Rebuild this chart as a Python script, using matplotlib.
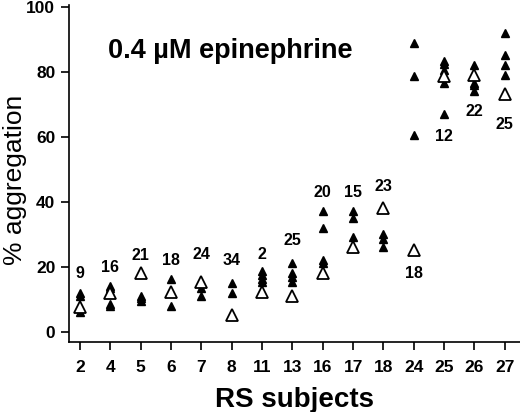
import matplotlib
matplotlib.use("Agg")
import matplotlib.pyplot as plt

plt.rcParams['font.family'] = ['Liberation Sans', 'DejaVu Sans']
plt.rcParams['font.weight'] = 'bold'

subjects = ["2", "4", "5", "6", "7", "8", "11", "13", "16", "17", "18", "24", "25", "26", "27"]

# individual measurements (filled triangles)
filled = [
    [11.8, 11.1, 6.2],
    [14.1, 13.4, 8.4, 7.9],
    [11.0, 10.3, 9.4],
    [16.1, 7.9],
    [13.5, 11.0],
    [15.1, 11.8],
    [18.8, 17.6, 16.3, 15.2],
    [21.1, 18.1, 16.8, 15.3],
    [37.1, 32.0, 22.1, 21.2],
    [37.1, 34.9, 29.2, 25.7],
    [30.0, 28.5, 26.2],
    [88.9, 78.7, 60.5],
    [83.3, 82.2, 80.5, 76.6, 66.9],
    [82.0, 76.4, 75.8, 73.9],
    [92.0, 85.1, 82.0, 79.0],
]
# open triangles
opened = [7.7, 12.0, 18.2, 12.3, 15.3, 5.1, 12.2, 11.1, 18.2, 26.2, 38.2, 25.3, 78.7, 78.9, 73.1]

# numbers printed next to each subject
n_labels = ["9", "16", "21", "18", "24", "34", "2", "25", "20", "15", "23", "18", "12", "22", "25"]
n_label_y = [17.8, 19.8, 23.6, 21.8, 23.9, 21.8, 23.9, 28.1, 42.8, 42.8, 44.8, 17.8, 59.9, 67.7, 63.6]

fig = plt.figure(figsize=(5.2, 4.12), dpi=100)
ax = fig.add_axes([0.133, 0.171, 0.867, 0.817])

for i, vals in enumerate(filled):
    ax.plot([i] * len(vals), vals, linestyle='none', marker='^',
            markersize=5.2, color='black')
ax.plot(range(len(opened)), opened, linestyle='none', marker='^',
        markersize=9, markerfacecolor='white', markeredgecolor='black',
        markeredgewidth=1.3)

for i, (lab, y) in enumerate(zip(n_labels, n_label_y)):
    ax.text(i, y, lab, ha='center', va='center', fontsize=11.5, fontweight='bold')

ax.text(0.92, 84.3, "0.4 \u00b5M epinephrine", ha='left', va='baseline',
        fontsize=19.5, fontweight='bold')

ax.set_xlim(-0.36, 14.5)
ax.set_ylim(-3, 100.5)
ax.set_xticks(range(len(subjects)))
ax.set_xticklabels(subjects)
ax.set_yticks([0, 20, 40, 60, 80, 100])

ax.spines['top'].set_visible(False)
ax.spines['right'].set_visible(False)
ax.spines['left'].set_linewidth(1.2)
ax.spines['bottom'].set_linewidth(1.2)
ax.tick_params(axis='both', direction='out', length=6, width=1.2, labelsize=12.5)
ax.tick_params(axis='x', pad=7)
ax.tick_params(axis='y', pad=4)

ax.set_xlabel("RS subjects", fontsize=20, fontweight='bold', labelpad=9)
ax.set_ylabel("% aggregation", fontsize=19, fontweight='normal')
ax.yaxis.label.set_verticalalignment('center')
ax.yaxis.set_label_coords(-0.12, 0.48)

fig.savefig("out.png", dpi=100)
